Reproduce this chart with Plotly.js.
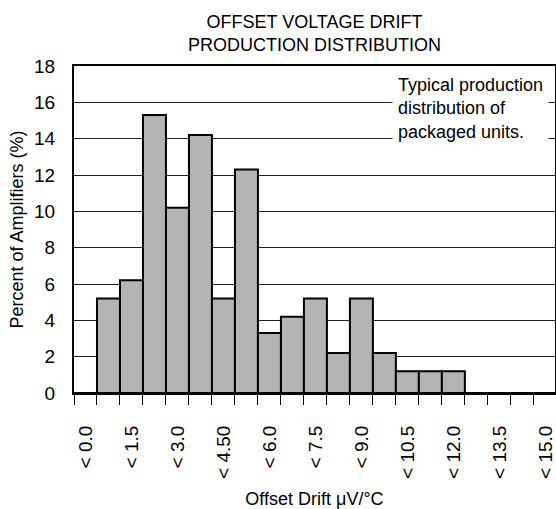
<!DOCTYPE html>
<html>
<head>
<meta charset="utf-8">
<script src="https://cdn.plot.ly/plotly-3.0.1.min.js"></script>
<style>
  html, body { margin: 0; padding: 0; background: #fff; }
  #chart { width: 556px; height: 509px; }
</style>
</head>
<body>
<div id="chart"></div>
<script>
// Bin index (each bar is one bin; labels on every second bin)
const binIndex = [0, 1, 2, 3, 4, 5, 6, 7, 8, 9, 10, 11, 12, 13, 14, 15, 16, 17, 18, 19, 20];
// Percent of amplifiers in each bin
const percentValues = [0, 5.2, 6.2, 15.3, 10.2, 14.2, 5.2, 12.3, 3.3, 4.2, 5.2, 2.2, 5.2, 2.2, 1.2, 1.2, 1.2, 0, 0, 0, 0];
// Tick labels and the bins they sit on
const labelBins = [0, 2, 4, 6, 8, 10, 12, 14, 16, 18, 20];
const tickLabels = ["< 0.0", "< 1.5", "< 3.0", "< 4.50", "< 6.0", "< 7.5", "< 9.0", "< 10.5", "< 12.0", "< 13.5", "< 15.0"];

const titleText = "OFFSET VOLTAGE DRIFT<br>PRODUCTION DISTRIBUTION";
const xTitle = "Offset Drift \u03BCV/\u00B0C";
const yTitle = "Percent of Amplifiers (%)";
const noteText = "Typical production<br>distribution of<br>packaged units.";

const FONT = "Liberation Sans, Arial, Helvetica, sans-serif";

const trace = {
  type: "bar",
  x: binIndex,
  y: percentValues,
  width: 1,
  marker: { color: "#b3b3b3", line: { color: "#000", width: 2 } },
  hoverinfo: "x+y"
};

const layout = {
  width: 556,
  height: 509,
  margin: { l: 74, r: 1, t: 66, b: 116 },
  paper_bgcolor: "#fff",
  plot_bgcolor: "#fff",
  font: { family: FONT, color: "#000", size: 18 },
  showlegend: false,
  bargap: 0,
  title: {
    text: titleText,
    font: { family: FONT, size: 18, color: "#000" },
    x: 0.5, xref: "paper", xanchor: "center",
    y: 0.945, yref: "container", yanchor: "top"
  },
  xaxis: {
    range: [-0.5, 20.42],
    showline: true, linecolor: "#000", linewidth: 2, mirror: true,
    zeroline: false, showgrid: false,
    tickmode: "array", tickvals: labelBins, ticktext: tickLabels,
    ticks: "", tickangle: -90,
    ticklabelstandoff: 23,
    tickfont: { family: FONT, size: 19, color: "#000" },
    minor: { tickmode: "linear", tick0: -0.5, dtick: 1, ticks: "outside", ticklen: 10, tickwidth: 1, tickcolor: "#000", showgrid: false },
    title: { text: xTitle, font: { family: FONT, size: 18, color: "#000" }, standoff: 14 }
  },
  yaxis: {
    range: [0, 18], tick0: 0, dtick: 2,
    showline: true, linecolor: "#000", linewidth: 2, mirror: true,
    zeroline: false,
    showgrid: true, gridcolor: "#222", gridwidth: 1,
    ticks: "",
    ticklabelstandoff: 13,
    tickfont: { family: FONT, size: 19, color: "#000" },
    title: { text: yTitle, font: { family: FONT, size: 18, color: "#000" }, standoff: 6 }
  },
  annotations: [{
    text: noteText,
    xref: "paper", yref: "paper",
    x: 0.661, y: 0.992, xanchor: "left", yanchor: "top",
    align: "left", showarrow: false,
    bgcolor: "#fff", borderpad: 5,
    font: { family: FONT, size: 18, color: "#000" }
  }]
};

Plotly.newPlot("chart", [trace], layout, { displayModeBar: false, staticPlot: true });
</script>
</body>
</html>
